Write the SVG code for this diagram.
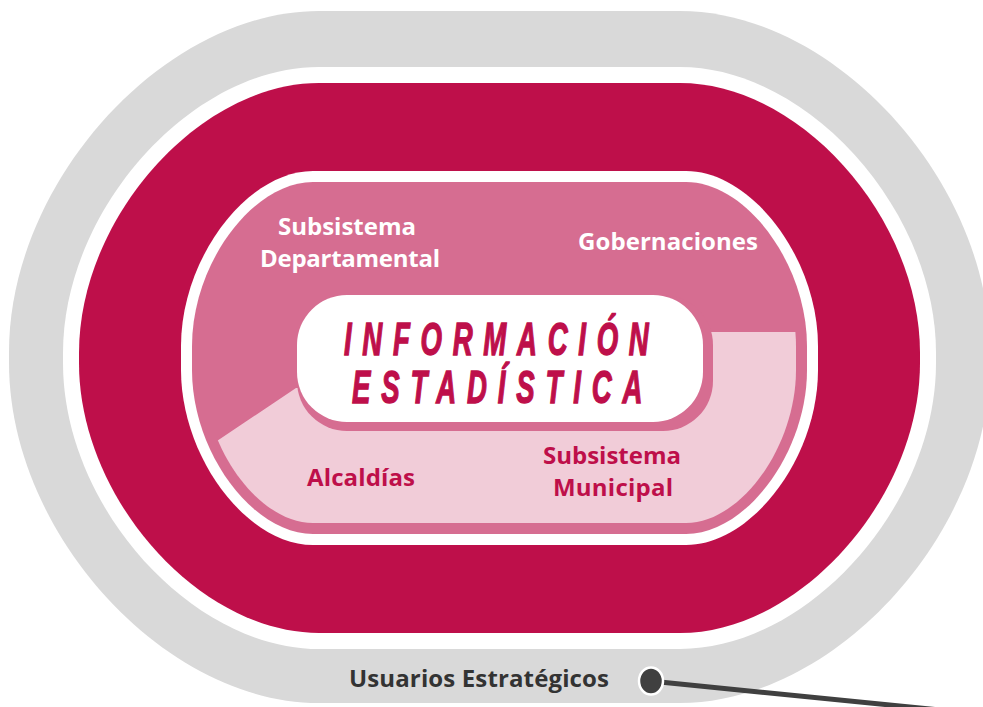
<svg xmlns="http://www.w3.org/2000/svg" width="983" height="707" viewBox="0 0 983 707">
<style>
.lbl{font-family:"Open Sans","Noto Sans","Liberation Sans",sans-serif;font-weight:700;font-size:24px;text-anchor:middle}
.w{fill:#ffffff}
.c{fill:#be0f4a}
.d{fill:#333333}
.big{font-family:"Liberation Sans",Arial,sans-serif;font-weight:700;font-style:italic;font-size:46px;fill:#be0f4a;stroke:#be0f4a;stroke-width:1.4}
</style>
<defs>
<clipPath id="clipA">
<polygon points="660,332 1000,332 1000,700 150,700 150,486 296,388 660,388"/>
</clipPath>
</defs>
<g id="usuarios-estrategicos">
<path fill="#d9d9d9" d="M319,11 H680 C835,11 990,182 990,352 V363 C990,533 835,703 680,703 H319 C164,703 9,533 9,363 V352 C9,182 164,11 319,11 Z"/>
<path fill="#ffffff" d="M319,67 H680 C808,67 936,210 936,353 V363 C936,506 808,649 680,649 H319 C191,649 63,506 63,363 V353 C63,210 191,67 319,67 Z"/>
<text class="lbl d" x="479" y="687" textLength="260">Usuarios Estratégicos</text>
</g>
<g id="anillo-rojo">
<path fill="#be0f4a" d="M319,83 H680 C800,83 920,218 920,353 V363 C920,498 800,633 680,633 H319 C199,633 79,498 79,363 V353 C79,218 199,83 319,83 Z"/>
</g>
<g id="subsistema-departamental">
<path fill="#ffffff" d="M313,171 H686 C752,171 818,258.5 818,346 V370 C818,457.5 752,545 686,545 H313 C247,545 181,457.5 181,370 V346 C181,258.5 247,171 313,171 Z"/>
<path fill="#d66d91" d="M313,182 H686 C746.5,182 807,264 807,346 V370 C807,452 746.5,534 686,534 H313 C252.5,534 192,452 192,370 V346 C192,264 252.5,182 313,182 Z"/>
<text class="lbl w" x="347" y="235" textLength="138">Subsistema</text>
<text class="lbl w" x="350" y="267" textLength="180">Departamental</text>
<text class="lbl w" x="668" y="250" textLength="180">Gobernaciones</text>
</g>
<g id="subsistema-municipal">
<path fill="#f1ccd8" clip-path="url(#clipA)" d="M313,193 H686 C741,193 796,269.5 796,346 V370 C796,446.5 741,523 686,523 H313 C258,523 203,446.5 203,370 V346 C203,269.5 258,193 313,193 Z"/>
<text class="lbl c" x="361" y="486" textLength="108">Alcaldías</text>
<text class="lbl c" x="612" y="464" textLength="138">Subsistema</text>
<text class="lbl c" x="613" y="496" textLength="120">Municipal</text>
</g>
<g id="informacion-estadistica">
<rect x="297" y="295" width="416" height="136" rx="50" ry="50" fill="#d66d91"/>
<rect x="297" y="295" width="406" height="127" rx="50" ry="50" fill="#ffffff"/>
<text class="big" transform="translate(344,355) scale(0.6,1)" x="0" y="0" textLength="508" lengthAdjust="spacing">INFORMACIÓN</text>
<text class="big" transform="translate(352,403) scale(0.6,1)" x="0" y="0" textLength="484" lengthAdjust="spacing">ESTADÍSTICA</text>
</g>
<g id="connectors">
<line x1="660" y1="682" x2="995" y2="715.5" stroke="#404040" stroke-width="5"/>
<ellipse cx="651" cy="681" rx="12" ry="13.5" fill="#404040" stroke="#ffffff" stroke-width="2.5"/>
</g>
</svg>
